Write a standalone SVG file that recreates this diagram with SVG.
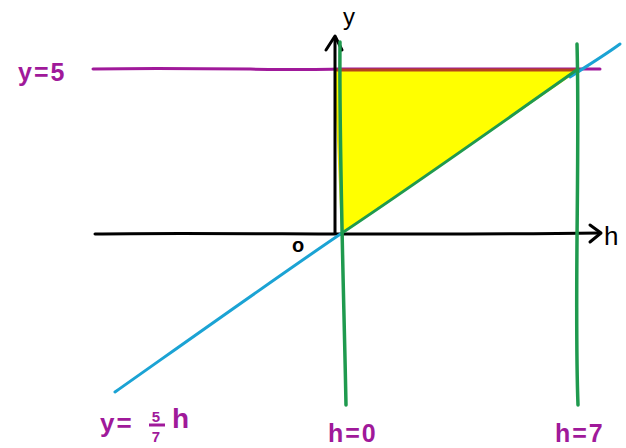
<svg xmlns="http://www.w3.org/2000/svg" width="626" height="448" viewBox="0 0 626 448">
<style>
.lbl{font-family:"Liberation Sans",sans-serif;fill:#a0199a;font-weight:bold;letter-spacing:2px}
.ln{fill:none;stroke-linecap:round;stroke-linejoin:round}
</style>
<rect width="626" height="448" fill="#fff"/>
<g id="region">
<path d="M335,70 L578,70 L342,233 Z" fill="#ffff00" stroke="#f5e800" stroke-width="2"/>
</g>
<g id="connectors">
<path class="ln" d="M93,69 C200,67 300,71 337,69 L600,69" stroke="#a0199a" stroke-width="3"/>
<path class="ln" d="M337,70 L578,70" stroke="#b5441a" stroke-width="3"/>
<path class="ln" d="M95,234 C200,232 400,236 600,233" stroke="#000" stroke-width="3"/>
<path class="ln" d="M590,225 L601,233 L590,242" stroke="#000" stroke-width="3"/>
<path class="ln" d="M335,233 L335,38" stroke="#000" stroke-width="3"/>
<path class="ln" d="M326,50 L335,36 L342,50" stroke="#000" stroke-width="3"/>
<path class="ln" d="M115,392 C200,332 290,268 342,233" stroke="#1ba3d4" stroke-width="3"/>
<path class="ln" d="M570,77 C590,64 605,55 620,44" stroke="#1ba3d4" stroke-width="3"/>
<path class="ln" d="M342,233 C420,181 500,124 578,69" stroke="#1f9a4e" stroke-width="3"/>
<path class="ln" d="M340,42 C339,150 344,300 346,405" stroke="#1f9a4e" stroke-width="3.5"/>
<path class="ln" d="M577,44 C580,150 574,300 578,405" stroke="#1f9a4e" stroke-width="3.5"/>
</g>
<g id="labels">
<text x="18" y="81" class="lbl" font-size="25">y=5</text>
<text x="343" y="25" font-family="Liberation Sans,sans-serif" font-size="24" fill="#000">y</text>
<text x="604" y="245" font-family="Liberation Sans,sans-serif" font-size="26" fill="#000">h</text>
<text x="292" y="252" font-family="Liberation Sans,sans-serif" font-size="20" font-weight="bold" fill="#000">o</text>
<text x="100" y="432" class="lbl" font-size="26">y=</text>
<text x="157" y="422" class="lbl" font-size="15" text-anchor="middle" letter-spacing="0">5</text>
<line x1="149" y1="425" x2="165" y2="425" stroke="#a0199a" stroke-width="3"/>
<text x="157" y="442" class="lbl" font-size="15" text-anchor="middle" letter-spacing="0">7</text>
<text x="172" y="428" class="lbl" font-size="28">h</text>
<text x="328" y="442" class="lbl" font-size="25">h=0</text>
<text x="555" y="442" class="lbl" font-size="25">h=7</text>
</g>
</svg>
